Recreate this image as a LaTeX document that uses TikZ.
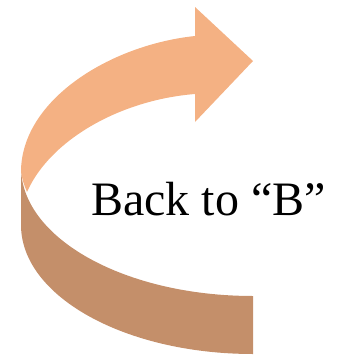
\documentclass[tikz,border=0pt]{standalone}
\usepackage{fontspec}
\setmainfont{Liberation Serif}
\definecolor{ribbonlight}{RGB}{244,177,131}
\definecolor{ribbondark}{RGB}{196,143,106}
\tikzset{
  lightpart/.style={fill=ribbonlight,draw=none},
  darkpart/.style={fill=ribbondark,draw=none},
  labeltext/.style={inner sep=0pt,font=\fontsize{48}{56}\selectfont}
}
\begin{document}
\begin{tikzpicture}[x=1pt,y=-1pt]
\useasboundingbox (0,0) rectangle (351,359);
% lower (dark) part of the ribbon
\path[darkpart] (21,167) -- (21,225)
  arc[start angle=180,end angle=90,x radius=232,y radius=129]
  -- (253,296)
  arc[start angle=90,end angle=180,x radius=232,y radius=129]
  -- cycle;
% upper (light) part with arrow head
\path[lightpart] (21,172) .. controls (23,182) .. (27,192)
  .. controls (50,140) and (120,100) .. (195,94)
  -- (195,122) -- (253,61) -- (195,7) -- (195,36)
  .. controls (110,45) and (21,100) .. (21,172) -- cycle;
\node[labeltext,anchor=base west] (label) at (91,215) {Back to “B”};
\end{tikzpicture}
\end{document}
